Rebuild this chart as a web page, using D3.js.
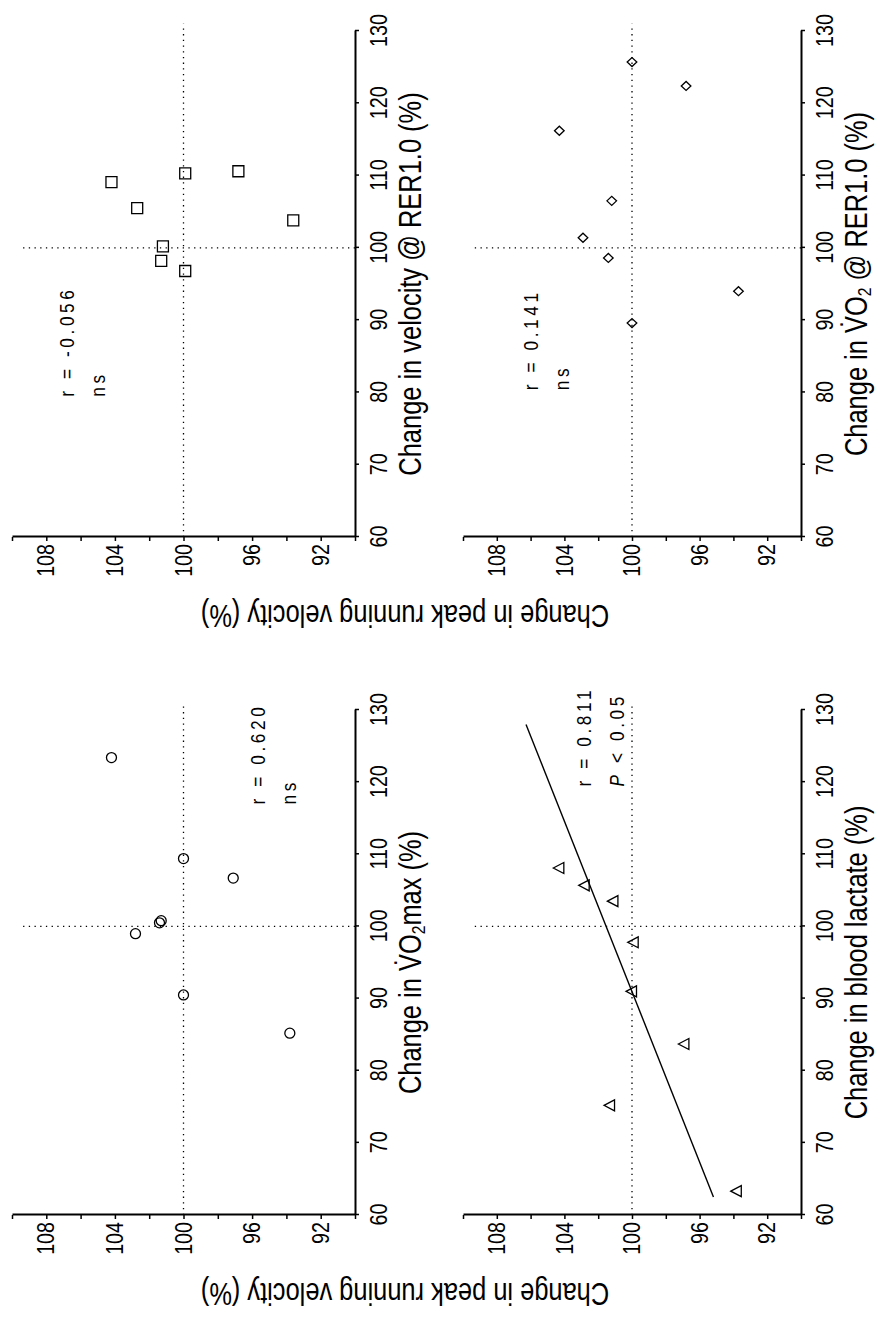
<!DOCTYPE html>
<html>
<head>
<meta charset="utf-8">
<script src="https://cdn.jsdelivr.net/npm/d3@7"></script>
<style>
  body { margin: 0; background: #fff; }
  text { font-family: "Liberation Sans", Arial, Helvetica, sans-serif; fill: #000; }
</style>
</head>
<body>
<div id="chart"></div>
<script>
const W = 877, H = 1317;

// values: x = change in the predictor (%), y = change in peak running velocity (%)
const vo2maxX = [123.4, 109.4, 106.7, 100.5, 100.8, 99.0, 90.5, 85.2];
const vo2maxY = [104.2, 100.0, 97.1, 101.4, 101.3, 102.8, 100.0, 93.8];

const velRerX = [109.1, 105.5, 110.3, 110.6, 103.8, 100.2, 98.2, 96.8];
const velRerY = [104.2, 102.7, 99.9, 96.8, 93.6, 101.2, 101.3, 99.9];

const lactateX = [108.1, 105.7, 103.5, 97.8, 91.0, 83.7, 75.2, 63.3];
const lactateY = [104.3, 102.8, 101.1, 99.9, 100.0, 96.9, 101.3, 93.8];

const vo2RerX = [125.7, 122.4, 116.2, 106.5, 101.4, 98.6, 94.0, 89.6];
const vo2RerY = [100.0, 96.8, 104.3, 101.2, 102.9, 101.4, 93.7, 100.0];

const xTicks = [60, 70, 80, 90, 100, 110, 120, 130];
const yTicks = [90, 92, 94, 96, 98, 100, 102, 104, 106, 108, 110];
const yLabels = [92, 96, 100, 104, 108];

const yTitle = 'Change in peak running velocity (%)';

// the original figure is 2 x 2, and the whole page is that figure turned a quarter turn to the left
const cols = [[102, 607], [780, 1286]];   // x range of each column (unrotated)
const rows = [[355, 12], [801, 463]];     // y range of each row (unrotated)

const panels = [
  { col: 0, row: 0, xs: vo2maxX, ys: vo2maxY, marker: 'circle',
    title: [['Change in '], ['V\u0307O'], ['2', 'sub'], ['max (%)']],
    stats: [[['r = 0.620']], [['ns']]], statX: 116.9, statY: [95.7, 93.9] },
  { col: 1, row: 0, xs: velRerX, ys: velRerY, marker: 'square',
    title: [['Change in velocity @ RER1.0 (%)']],
    stats: [[['r = -0.056']], [['ns']]], statX: 79.4, statY: [106.8, 105.0] },
  { col: 0, row: 1, xs: lactateX, ys: lactateY, marker: 'triangle', fit: [62.5, 128],
    title: [['Change in blood lactate (%)']],
    stats: [[['r = 0.811']], [['P', 'it'], [' < 0.05']]], statX: 119.4, statY: [102.85, 100.95] },
  { col: 1, row: 1, xs: vo2RerX, ys: vo2RerY, marker: 'diamond',
    title: [['Change in '], ['V\u0307O'], ['2', 'sub'], [' @ RER1.0 (%)']],
    stats: [[['r = 0.141']], [['ns']]], statX: 80.3, statY: [106.0, 104.2] },
];

// the lettering in the figure is a narrow grotesque: squeeze the installed sans to match
const NARROW = 0.82;
const narrow = sel => sel.each(function () {
  const len = this.getComputedTextLength();
  if (len > 0) d3.select(this).attr('textLength', len * NARROW).attr('lengthAdjust', 'spacingAndGlyphs');
});

const markerPath = (type, cx, cy) => {
  const p = d3.path();
  if (type === 'circle') {
    p.moveTo(cx + 5, cy); p.arc(cx, cy, 5, 0, 2 * Math.PI);
  } else if (type === 'square') {
    p.rect(cx - 5.5, cy - 5.5, 11, 11);
  } else if (type === 'diamond') {
    p.moveTo(cx, cy - 4.8); p.lineTo(cx + 4.5, cy); p.lineTo(cx, cy + 4.8); p.lineTo(cx - 4.5, cy); p.closePath();
  } else {
    p.moveTo(cx, cy - 6); p.lineTo(cx + 5.5, cy + 4.5); p.lineTo(cx - 5.5, cy + 4.5); p.closePath();
  }
  return p.toString();
};

// least squares line through the points
const linearFit = (xs, ys) => {
  const mx = d3.mean(xs), my = d3.mean(ys);
  const sxy = d3.sum(xs, (x, i) => (x - mx) * (ys[i] - my));
  const sxx = d3.sum(xs, x => (x - mx) * (x - mx));
  const b = sxy / sxx;
  return x => my + b * (x - mx);
};

const addRuns = (sel, runs) => {
  let afterSub = false;
  runs.forEach(([s, kind]) => {
    const t = sel.append('tspan').text(s);
    if (kind === 'sub') t.attr('font-size', '0.62em').attr('dy', '0.2em');
    else if (afterSub) t.attr('dy', '-0.124em');
    if (kind === 'it') t.attr('font-style', 'italic');
    afterSub = kind === 'sub';
  });
};

const svg = d3.select('#chart').append('svg')
  .attr('width', W).attr('height', H)
  .style('background', '#fff');

const fig = svg.append('g').attr('transform', `translate(0,${H}) rotate(-90)`);

panels.forEach(pn => {
  const x = d3.scaleLinear().domain([60, 130]).range(cols[pn.col]);
  const y = d3.scaleLinear().domain([90, 110]).range(rows[pn.row]);
  const g = fig.append('g');

  // dotted reference lines at 100 %
  g.append('line')
    .attr('x1', x(60)).attr('x2', x(131)).attr('y1', y(100)).attr('y2', y(100))
    .attr('stroke', '#000').attr('stroke-width', 1.3).attr('stroke-dasharray', '1.3,4.4');
  g.append('line')
    .attr('x1', x(100)).attr('x2', x(100)).attr('y1', y(90)).attr('y2', y(109.5))
    .attr('stroke', '#000').attr('stroke-width', 1.3).attr('stroke-dasharray', '1.3,4.4');

  // axes
  const yAxis = g.append('g').attr('transform', `translate(${x(60)},0)`)
    .call(d3.axisLeft(y).tickValues(yTicks)
      .tickFormat(d => yLabels.includes(d) ? d : '')
      .tickSize(4).tickSizeOuter(0).tickPadding(3));
  const xAxis = g.append('g').attr('transform', `translate(0,${y(90)})`)
    .call(d3.axisBottom(x).tickValues(xTicks).tickSize(4).tickSizeOuter(0).tickPadding(11));
  [xAxis, yAxis].forEach(a => {
    a.select('.domain').attr('stroke-width', 2);
    a.selectAll('.tick line').attr('stroke-width', 1.5);
    a.selectAll('text').attr('font-size', 24).attr('font-family', null).call(narrow);
  });

  // axis title
  const tt = g.append('text')
    .attr('x', (x(60) + x(130)) / 2).attr('y', y(90) + 66)
    .attr('text-anchor', 'middle').attr('font-size', 31);
  addRuns(tt, pn.title);
  narrow(tt);

  // regression line
  if (pn.fit) {
    const f = linearFit(pn.xs, pn.ys);
    g.append('line')
      .attr('x1', x(pn.fit[0])).attr('y1', y(f(pn.fit[0])))
      .attr('x2', x(pn.fit[1])).attr('y2', y(f(pn.fit[1])))
      .attr('stroke', '#000').attr('stroke-width', 1.4);
  }

  // points
  g.selectAll('path.pt').data(pn.xs).join('path')
    .attr('class', 'pt')
    .attr('d', (d, i) => markerPath(pn.marker, x(d), y(pn.ys[i])))
    .attr('fill', 'none').attr('stroke', '#000').attr('stroke-width', 1.3);

  // correlation text, spaced out like the original typewriter-ish lettering
  pn.stats.forEach((runs, i) => {
    const t = g.append('text')
      .attr('transform', `translate(${x(pn.statX)},${y(pn.statY[i])}) scale(${NARROW},1)`)
      .attr('dy', '0.36em')
      .attr('font-size', 21).style('letter-spacing', (3.6 / NARROW) + 'px');
    addRuns(t, runs);
  });
});

// shared y titles, one per column
cols.forEach(c => {
  const cy = (rows[0][0] + rows[1][1]) / 2 - 4;
  const t = fig.append('text')
    .attr('transform', `translate(${c[0] - 68},${cy}) rotate(-90)`)
    .attr('text-anchor', 'middle').attr('font-size', 31)
    .text(yTitle);
  narrow(t);
});
</script>
</body>
</html>
